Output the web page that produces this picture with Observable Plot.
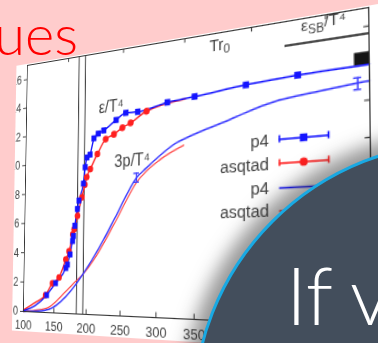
<!DOCTYPE html>
<html><head><meta charset="utf-8">
<script src="https://cdn.jsdelivr.net/npm/d3@7"></script>
<script src="https://cdn.jsdelivr.net/npm/@observablehq/plot@0.6"></script>
<style>
html,body{margin:0;padding:0;width:378px;height:343px;overflow:hidden;background:#ffcccc;position:relative;}
#title{position:absolute;left:0;top:0;}
#chart{position:absolute;left:0;top:0;}
#circle{position:absolute;left:192px;top:141px;width:542px;height:542px;border-radius:50%;background:#434e5c;border:3px solid #19a9e3;box-sizing:border-box;box-shadow:-3px -3px 18px 8px rgba(50,50,50,0.5);}
#ctext{position:absolute;left:0;top:0;}
</style></head><body>
<svg id="title" width="378" height="80"><text x="78" y="55" text-anchor="end" font-family="Lato, 'Open Sans', sans-serif" font-weight="300" font-size="56" fill="#ff0000">ues</text></svg>
<div id="chart"></div>
<div id="circle"></div>
<svg id="ctext" width="378" height="343"><text x="286" y="325" font-family="Lato, 'Open Sans', sans-serif" font-weight="300" font-size="80" fill="#ffffff">If<tspan x="350">v</tspan></text></svg>
<script>
// ---- data (T in MeV) ----
const xTicks = [100,150,200,250,300,350,400,450,500,550];
const xLabelTicks = [100,150,200,250,300,350];
const yTicks = [0,2,4,6,8,10,12,14,16];
const tr0TickT = [168,252,337,421,505];   // Tr0 = 0.4,0.6,0.8,1.0,1.2
const tcBand = [185,195];

const p4EpsT = [138,152,168,170.5,174.4,178,179.2,181.2,185,187.3,193.8,196.2,198.9,203.4,209.2,215.5,223.8,242,256,273,314,350,414,474];
const p4Eps  = [1.16,1.97,2.98,3.2,3.87,4.75,5.08,5.75,6.85,7.4,8.5,9.57,10.2,10.37,11.42,11.7,11.87,12.46,12.85,12.83,13.2,13.35,13.66,13.84];

const asqEpsT = [136,147,157.5,167.7,172.7,178,180.2,185.3,191.7,196.1,198.8,204.1,214.6,226.8,239,251.2,263,285.5];
const asqEps  = [1.16,1.96,2.35,3.53,4.08,5.19,5.53,6.39,7.6,8.42,8.91,9.42,10.37,11.29,11.55,11.92,12.17,12.8];

const p4EpsCurveT = [100,120,138,152,168,174.4,178,181.2,185,187.3,193.8,196.2,198.9,203.4,209.2,215.5,223.8,242,256,273,314,350,414,474,550];
const p4EpsCurve  = [0.05,0.45,1.16,1.97,2.98,3.87,4.75,5.75,6.85,7.4,8.5,9.57,10.2,10.37,11.42,11.7,11.87,12.46,12.85,12.83,13.2,13.35,13.66,13.84,13.93];

const asqEpsCurveT = [100,120,136,147,157.5,167.7,172.7,178,180.2,185.3,191.7,196.1,198.8,204.1,214.6,226.8,239,251.2,263,285.5,338];
const asqEpsCurve  = [0.1,0.65,1.16,1.96,2.35,3.53,4.08,5.19,5.53,6.39,7.6,8.42,8.91,9.42,10.37,11.29,11.55,11.92,12.17,12.8,13.27];

const p4PT = [100,120,142,168,181,194,212,225,243,272,285,327,345,395,409,453,500,538,550];
const p4P  = [0,0.06,0.22,1.08,1.75,2.55,3.8,4.8,6.3,8.66,9.2,10.65,10.98,11.73,11.96,12.54,12.8,12.98,13.03];

const asqPT = [100,120,142,168,181,194,212,225,243,272,305,336];
const asqP  = [0,0.12,0.37,1.42,2.0,2.55,3.6,4.55,6.0,8.35,9.7,10.45];

const p4PErrT  = [272,538];
const p4PErrLo = [8.38,12.63];
const p4PErrHi = [8.94,13.27];

const sbLevel = 15.6;
const sbFromT = 460;
const boxT = [535,550];
const boxV = [13.9,14.6];

const labelText = ["ε/T⁴","3p/T⁴"];
const labelT    = [216,240];
const labelV    = [13.35,9.8];
const trText = "Tr0", trT = 369, trV = 16.3;
const sbText = "εSB/T⁴", sbT = 478, sbV = 16.55;

const legendText = ["p4","asqtad","p4","asqtad"];
const legendV    = [10.3,8.95,7.55,6.25];
const legendTextT = 441, legendLineT = [453,507], legendMarkT = 480;

// ---- tables ----
const zip = (xs, ys) => xs.map((x,i)=>({T:x, v:ys[i]}));
const p4Pts = zip(p4EpsT,p4Eps), asqPts = zip(asqEpsT,asqEps);
const p4EpsLine = zip(p4EpsCurveT,p4EpsCurve), asqEpsLine = zip(asqEpsCurveT,asqEpsCurve);
const p4PLine = zip(p4PT,p4P), asqPLine = zip(asqPT,asqP);
const errs = p4PErrT.map((t,i)=>({T:t, lo:p4PErrLo[i], hi:p4PErrHi[i]}));
const caps = errs.flatMap(d=>[{T:d.T,v:d.lo},{T:d.T,v:d.hi}]);
const labels = labelText.map((t,i)=>({t, T:labelT[i], v:labelV[i]}));
const legend = legendText.map((t,i)=>({t, v:legendV[i], i}));

const BLUE="#1414ff", RED="#ff2020", BLUE2="#3838ff", RED2="#ff4a4a", INK="#444";

const chart = Plot.plot({
  width: 367, height: 271,
  marginLeft: 14, marginRight: 8, marginTop: 1, marginBottom: 20,
  x: {domain:[100,550], ticks: xLabelTicks, tickSize: 0, tickPadding: 8, label: null},
  y: {domain:[0,17], ticks: yTicks, tickSize: 4, tickPadding: 3, label: null},
  style: {background:"white", fontFamily:"'Liberation Sans', Arial, sans-serif", fontSize:"13px", color:INK, overflow:"hidden"},
  marks: [
    Plot.ruleX(tcBand, {x:d=>d, y1:0, y2:17, stroke:"#222", strokeWidth:1}),
    Plot.ruleX(xTicks, {x:d=>d, y1:0, y2:0.3, stroke:"#333"}),
    Plot.ruleX(tr0TickT, {x:d=>d, y1:16.72, y2:17, stroke:"#333"}),
    Plot.ruleY(yTicks, {y:d=>d, x1:545, x2:550, stroke:"#333"}),
    Plot.ruleY([sbLevel], {y:d=>d, x1:sbFromT, x2:550, stroke:"#111", strokeWidth:1.5}),
    Plot.rect([0], {x1:boxT[0], x2:boxT[1], y1:boxV[0], y2:boxV[1], fill:"#151515"}),
    Plot.line(asqPLine, {x:"T", y:"v", stroke:RED2, strokeWidth:1.3, curve:"monotone-x"}),
    Plot.line(p4PLine, {x:"T", y:"v", stroke:BLUE2, strokeWidth:1.5, curve:"monotone-x"}),
    Plot.line(asqEpsLine, {x:"T", y:"v", stroke:RED, strokeWidth:1.5, curve:"monotone-x"}),
    Plot.line(p4EpsLine, {x:"T", y:"v", stroke:BLUE, strokeWidth:1.5, curve:"monotone-x"}),
    Plot.ruleX(errs, {x:"T", y1:"lo", y2:"hi", stroke:BLUE2, strokeWidth:1.3}),
    Plot.ruleY(caps, {y:"v", x1:d=>d.T-4, x2:d=>d.T+4, stroke:BLUE2, strokeWidth:1.3}),
    Plot.dot(asqPts, {x:"T", y:"v", r:3.3, fill:RED, symbol:"circle"}),
    Plot.dot(p4Pts, {x:"T", y:"v", r:3.3, fill:BLUE, symbol:"square"}),
    Plot.text(labels, {x:"T", y:"v", text:"t", textAnchor:"start", fontSize:16, fill:INK}),
    Plot.text([trText], {x:()=>trT, y:()=>trV, text:d=>d, textAnchor:"start", fontSize:15, fill:INK}),
    Plot.text([sbText], {x:()=>sbT, y:()=>sbV, text:d=>d, textAnchor:"start", fontSize:13.5, fill:INK}),
    // legend
    Plot.text(legend, {x:()=>legendTextT, y:"v", text:"t", textAnchor:"end", fontSize:15, fill:INK}),
    Plot.ruleY(legend, {y:"v", x1:()=>legendLineT[0], x2:()=>legendLineT[1], stroke:d=>d.i%2?RED:BLUE, strokeWidth:1.5}),
    Plot.ruleX(legend.filter(d=>d.i<2).flatMap(d=>legendLineT.map(T=>({T,v:d.v,i:d.i}))), {x:"T", y1:d=>d.v-0.2, y2:d=>d.v+0.2, stroke:d=>d.i%2?RED:BLUE, strokeWidth:1.5}),
    Plot.dot(legend.filter(d=>d.i===0), {x:()=>legendMarkT, y:"v", r:3.6, fill:BLUE, symbol:"square"}),
    Plot.dot(legend.filter(d=>d.i===1), {x:()=>legendMarkT, y:"v", r:3.4, fill:RED, symbol:"circle"}),
    Plot.frame({stroke:"#333"})
  ]
});

// subscripts for epsilon_SB and Tr_0
d3.select(chart).selectAll("text").each(function(){
  if (this.textContent === sbText) {
    this.innerHTML = 'ε<tspan dy="0.3em" font-size="0.75em">SB</tspan><tspan dy="-0.3em">/T⁴</tspan>';
  } else if (this.textContent === trText) {
    this.innerHTML = 'Tr<tspan dy="0.3em" font-size="0.75em">0</tspan>';
  }
});
d3.select(chart).selectAll('[aria-label="y-axis tick label"] text').attr("font-size", 12);

// perspective: map the plot frame onto the photographed quad
function squareToQuad(P){
  const [[x0,y0],[x1,y1],[x2,y2],[x3,y3]] = P;
  const dx1=x1-x2, dx2=x3-x2, dx3=x0-x1+x2-x3;
  const dy1=y1-y2, dy2=y3-y2, dy3=y0-y1+y2-y3;
  const den = dx1*dy2-dx2*dy1;
  const g=(dx3*dy2-dx2*dy3)/den, h=(dx1*dy3-dx3*dy1)/den;
  return {a:x1-x0+g*x1, b:x3-x0+h*x3, c:x0, d:y1-y0+g*y1, e:y3-y0+h*y3, f:y0, g, h};
}
const ml=14, mt=1, fw=367-14-8, fh=271-1-20;
const H = squareToQuad([[27,65],[368,7],[372,327],[23,311]]);
const M00=H.a/fw, M01=H.b/fh, M02=-H.a*ml/fw-H.b*mt/fh+H.c;
const M10=H.d/fw, M11=H.e/fh, M12=-H.d*ml/fw-H.e*mt/fh+H.f;
const M20=H.g/fw, M21=H.h/fh, M22=-H.g*ml/fw-H.h*mt/fh+1;
chart.style.transformOrigin = "0 0";
chart.style.transform = `matrix3d(${M00},${M10},0,${M20},${M01},${M11},0,${M21},0,0,1,0,${M02},${M12},0,${M22})`;
document.getElementById("chart").appendChild(chart);
</script>
</body></html>
